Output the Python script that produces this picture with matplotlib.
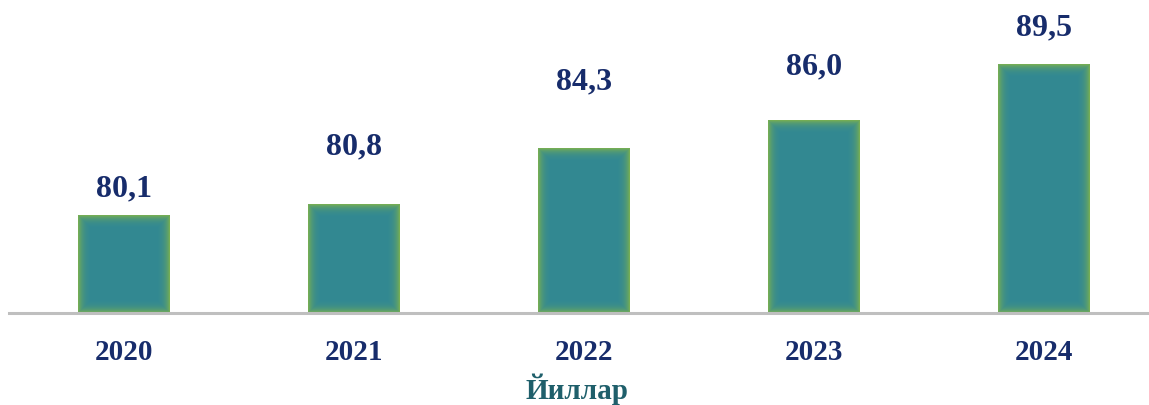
import matplotlib
matplotlib.use("Agg")
import matplotlib.pyplot as plt

years = ["2020", "2021", "2022", "2023", "2024"]
values = [80.1, 80.8, 84.3, 86.0, 89.5]
labels = ["80,1", "80,8", "84,3", "86,0", "89,5"]
# gap between bar top and label baseline, in points (labels sit unevenly in the original)
label_offsets = [13.7, 35.3, 41.8, 33.1, 20.9]

W, H = 1149, 405
fig = plt.figure(figsize=(W / 100, H / 100), dpi=100)
ax = fig.add_axes([9 / W, 1 - 313 / H, 1140 / W, 313 / H])

ymin, ymax = 74.0, 93.5
ax.set_ylim(ymin, ymax)
ax.set_xlim(-0.5, 4.457)

xs = list(range(len(years)))
bw = 0.4
px_x = 4.957 / 1140          # data units per pixel, x
px_y = (ymax - ymin) / 313    # data units per pixel, y

# outer greenish edge, then teal layers inset for a soft glow
ax.bar(xs, [v - ymin for v in values], bottom=ymin, width=bw, color="#74AD55", zorder=2)
for k in range(1, 13):
    dx, dy = k * px_x, k * px_y
    ax.bar(xs, [v - ymin - 2 * dy for v in values], bottom=ymin + dy,
           width=bw - 2 * dx, color="#2F8799", alpha=0.2, linewidth=0, zorder=2 + k)

navy = "#172C6B"
for x, v, t, off in zip(xs, values, labels, label_offsets):
    ax.annotate(t, (x, v), xytext=(0, off), textcoords="offset points",
                ha="center", va="baseline", fontsize=23, fontweight="bold",
                family="Liberation Serif", color=navy)

ax.set_xticks(xs)
ax.set_xticklabels(years, fontsize=21, fontweight="bold", family="Liberation Serif", color=navy)
ax.tick_params(axis="x", length=0, pad=19)
ax.set_yticks([])
for s in ["top", "right", "left"]:
    ax.spines[s].set_visible(False)
ax.spines["bottom"].set_color("#BFBFBF")
ax.spines["bottom"].set_linewidth(2.2)
ax.spines["bottom"].set_zorder(20)

fig.text(577 / W, 1 - 399 / H, "Йиллар", ha="center", va="baseline",
         fontsize=21, fontweight="bold", family="Liberation Serif", color="#1F5F6B")

fig.savefig("out.png", dpi=100)
